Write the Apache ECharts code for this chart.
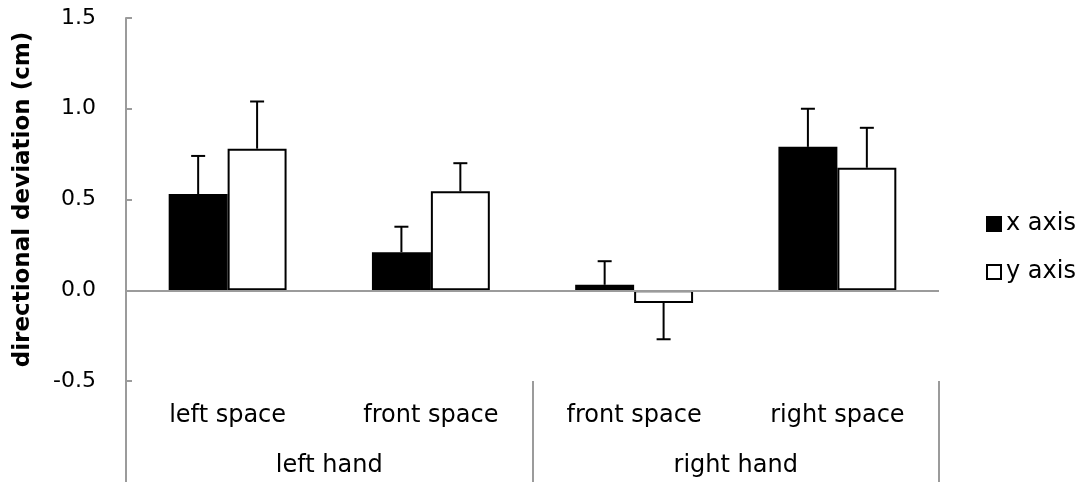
<!DOCTYPE html>
<html>
<head>
<meta charset="utf-8">
<script src="https://cdn.jsdelivr.net/npm/echarts@6/dist/echarts.min.js"></script>
<style>
  html, body { margin: 0; padding: 0; background: #fff; }
  #chart { width: 1091px; height: 482px; }
</style>
</head>
<body>
<div id="chart"></div>
<script>
    // categories (two levels)
    var spaces = ['left space', 'front space', 'front space', 'right space'];
    var hands = ['left hand', 'right hand'];

    // means and error (SE) per series
    var xAxisMeans = [0.53, 0.21, 0.03, 0.79];
    var xAxisErr = [0.21, 0.14, 0.13, 0.21];
    var yAxisMeans = [0.78, 0.545, -0.07, 0.675];
    var yAxisErr = [0.26, 0.155, 0.20, 0.22];

    var yTicks = { min: -0.5, max: 1.5, step: 0.5 };

    var gray = '#9b9b9b';
    var font = '"DejaVu Sans", "Liberation Sans", Arial, sans-serif';
    var barFrac = 0.29;

    var chart = echarts.init(document.getElementById('chart'));

    function errData(means, errs) {
        return means.map(function (m, i) { return [i, m, errs[i]]; });
    }

    function errRenderer(shift) {
        return function (params, api) {
            var ci = api.value(0), mean = api.value(1), se = api.value(2);
            var sign = mean < 0 ? -1 : 1;
            var catW = api.size([1, 0])[0];
            var dx = shift * catW * barFrac / 2;
            var a = api.coord([ci, mean]);
            var b = api.coord([ci, mean + sign * se]);
            var x = a[0] + dx;
            var style = { stroke: '#000', lineWidth: 2 };
            return {
                type: 'group',
                children: [
                    { type: 'line', shape: { x1: x, y1: a[1], x2: x, y2: b[1] }, style: style },
                    { type: 'line', shape: { x1: x - 7, y1: b[1], x2: x + 7, y2: b[1] }, style: style }
                ]
            };
        };
    }

    var option = {
        animation: false,
        backgroundColor: '#fff',
        textStyle: { fontFamily: font },
        grid: { left: 126, right: 152, top: 18, bottom: 101, containLabel: false },
        legend: {
            orient: 'vertical',
            left: 981,
            top: 207,
            icon: 'rect',
            itemWidth: 14,
            itemHeight: 14,
            itemGap: 24,
            data: ['x axis', 'y axis'],
            textStyle: { fontFamily: font, fontSize: 24, color: '#000' }
        },
        xAxis: [{
            type: 'category',
            data: spaces,
            position: 'bottom',
            axisLine: { show: false },
            axisTick: { show: false },
            axisLabel: { color: '#000', fontSize: 24, fontFamily: font, margin: 23, interval: 0 }
        }, {
            type: 'category',
            data: hands,
            position: 'bottom',
            axisLine: { show: false },
            axisTick: { show: true, length: 101, lineStyle: { color: gray, width: 2 } },
            axisLabel: { color: '#000', fontSize: 24, fontFamily: font, margin: 73, interval: 0 }
        }],
        yAxis: {
            type: 'value',
            min: yTicks.min,
            max: yTicks.max,
            interval: yTicks.step,
            name: 'directional deviation (cm)',
            nameLocation: 'middle',
            nameGap: 91,
            nameTextStyle: { fontFamily: font, fontSize: 23, fontWeight: 'bold', color: '#000' },
            axisLine: { show: true, lineStyle: { color: gray, width: 2 } },
            axisTick: { show: true, inside: true, length: 6, lineStyle: { color: gray, width: 2 } },
            axisLabel: {
                color: '#000', fontSize: 22, fontFamily: font, margin: 30,
                formatter: function (v) { return v.toFixed(1); }
            },
            splitLine: { show: false }
        },
        series: [{
            name: 'x axis',
            type: 'bar',
            data: xAxisMeans,
            barWidth: (barFrac * 100) + '%',
            barGap: '0%',
            itemStyle: { color: '#000', borderColor: '#000', borderWidth: 1.5 },
            markLine: {
                silent: true,
                symbol: 'none',
                label: { show: false },
                lineStyle: { color: gray, width: 2, type: 'solid' },
                data: [{ yAxis: 0 }]
            }
        }, {
            name: 'y axis',
            type: 'bar',
            data: yAxisMeans,
            barWidth: (barFrac * 100) + '%',
            barGap: '0%',
            itemStyle: { color: '#fff', borderColor: '#000', borderWidth: 2 }
        }, {
            type: 'custom',
            data: errData(xAxisMeans, xAxisErr),
            renderItem: errRenderer(-1),
            z: 5
        }, {
            type: 'custom',
            data: errData(yAxisMeans, yAxisErr),
            renderItem: errRenderer(1),
            z: 5
        }]
    };

    chart.setOption(option);
</script>
</body>
</html>
